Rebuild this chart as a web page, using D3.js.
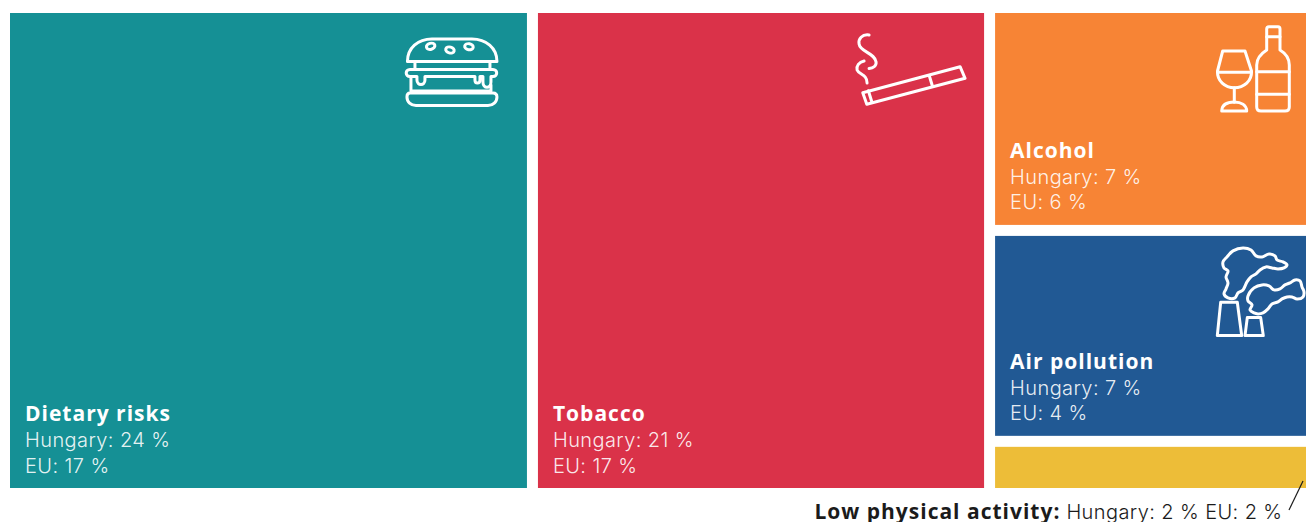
<!DOCTYPE html>
<html>
<head>
<meta charset="utf-8">
<script src="https://cdn.jsdelivr.net/npm/d3@7"></script>
<style>
    html, body { margin: 0; padding: 0; background: #fff; overflow: hidden; }
    svg { display: block; }
    .bold { font-family: "Open Sans", sans-serif; font-weight: 700; font-size: 21px; letter-spacing: 1px; }
    .light { font-family: Inter, sans-serif; font-weight: 300; font-size: 20px; letter-spacing: .4px; }
    .name { fill: #fff; }
    .val { fill: #fff; fill-opacity: .9; }
    .icon * { fill: none; stroke: #fff; stroke-width: 3; stroke-linejoin: round; stroke-linecap: round; }
</style>
</head>
<body>
<script>
const categories = ['Dietary risks', 'Tobacco', 'Alcohol', 'Air pollution', 'Low physical activity'];
const hungaryLabels = [24, 21, 7, 7, 2];
const euLabels = [17, 17, 6, 4, 2];
// unrounded shares, estimated from the areas of the tiles
const hungaryShares = [24.6, 21.3, 6.88, 6.51, 1.61];
const colors = ['#159095', '#da3249', '#f78435', '#215994', '#edbd38'];
const icons = ['burger', 'cigarette', 'wine', 'factory', null];

const width = 1306, height = 522;
const box = { left: 10, top: 13, right: 1306, bottom: 488 };
const gap = 11;

const svg = d3.select('body').append('svg')
    .attr('width', width)
    .attr('height', height);

// first two categories get a column each, the rest share the third one
const rows = categories.map((name, i) => ({ name, index: i, value: hungaryShares[i] }));
const root = d3.hierarchy({ children: [rows[0], rows[1], { children: rows.slice(2) }] })
    .sum(d => d.value || 0);

d3.treemap()
    .tile((node, x0, y0, x1, y1) => (node.depth === 0 ? d3.treemapDice : d3.treemapSlice)(node, x0, y0, x1, y1))
    .size([box.right - box.left, box.bottom - box.top])
    .paddingInner(gap)(root);

const cells = svg.append('g')
    .attr('transform', `translate(${box.left}, ${box.top})`)
    .selectAll('g')
    .data(root.leaves())
    .enter()
    .append('g')
    .attr('transform', d => `translate(${d.x0}, ${d.y0})`);

cells.append('rect')
    .attr('width', d => d.x1 - d.x0)
    .attr('height', d => d.y1 - d.y0)
    .attr('fill', d => colors[d.data.index]);

// labels inside the tile, all but the smallest one
const labelled = cells.filter(d => d.data.index < 4);
const pad = 15;

labelled.append('text')
    .attr('class', 'bold name')
    .attr('x', pad)
    .attr('y', d => d.y1 - d.y0 - 67)
    .text(d => d.data.name);
labelled.append('text')
    .attr('class', 'light val')
    .attr('x', pad)
    .attr('y', d => d.y1 - d.y0 - 41)
    .text(d => `Hungary: ${hungaryLabels[d.data.index]} %`);
labelled.append('text')
    .attr('class', 'light val')
    .attr('x', pad)
    .attr('y', d => d.y1 - d.y0 - 15.5)
    .text(d => `EU: ${euLabels[d.data.index]} %`);

// label of the smallest tile sits under it, with a leader line
const low = root.leaves().find(d => d.data.index === 4);
const lowRight = box.left + low.x1;
const lowBottom = box.top + low.y1;

const outside = svg.append('text')
    .attr('x', lowRight - 23.5)
    .attr('y', lowBottom + 31)
    .attr('text-anchor', 'end')
    .attr('fill', '#1b1b1b');
outside.append('tspan')
    .attr('class', 'bold')
    .text(`${low.data.name}:`);
outside.append('tspan')
    .attr('class', 'light')
    .text(` Hungary: ${hungaryLabels[4]} % EU: ${euLabels[4]} %`);

svg.append('line')
    .attr('x1', lowRight - 3)
    .attr('y1', lowBottom - 7)
    .attr('x2', lowRight - 17)
    .attr('y2', lowBottom + 22)
    .attr('stroke', '#1b1b1b')
    .attr('stroke-width', 1.2);

// icons, offsets measured from the top right corner of the tile
const cloud = d3.line().curve(d3.curveCatmullRomClosed.alpha(0.5));

const iconDraw = {
    burger(g) {
        g.append('path').attr('d', 'M1.5,23.5 C1.5,10 12,1 26,1 H66 C80,1 91,10 91,23.5 Z');
        [[24.7, 8.3, -15], [44, 12, 15], [63, 8.7, 10]].forEach(s => {
            g.append('ellipse').attr('rx', 4.3).attr('ry', 3)
                .attr('transform', `translate(${s[0]},${s[1]}) rotate(${s[2]})`);
        });
        g.append('path').attr('d', 'M9,24 V31 M84,24 V31');
        g.append('path').attr('d', 'M4,31.5 H87 C92,31.5 92,38.5 87,38.5 H85 V44 C85,51 77,51 77,44 V38.5 H74 V42 C74,46 69,46 69,42 V38.5 H19 V42 C19,48 11,48 11,42 V38.5 H4 C-1,38.5 -1,31.5 4,31.5 Z');
        g.append('path').attr('d', 'M5,39 V53 H85 V47');
        g.append('path').attr('d', 'M4,55 H87 C90,55 91,57 91,59 C91,64 87,67.5 82,67.5 H10 C5,67.5 1,64 1,59 C1,57 2,55 4,55 Z');
    },
    cigarette(g) {
        g.append('path').attr('d', 'M7.7,59.7 L105,33.7 L110,45.3 L11.7,71.3 Z');
        g.append('path').attr('d', 'M13.3,57.7 L16.7,68.7 M74.3,43 L77.3,53');
        g.append('path').attr('d', 'M14,2 C7,1 3,6 4,11 C5,19 20,20 21,29 C21.5,33 18,35 14,35.5');
        g.append('path').attr('d', 'M9,28 C4,29 1,33 2,37 C4,42 12,41 12,50');
    },
    wine(g) {
        g.append('path').attr('d', 'M5.7,25 H28 L34.5,45 C35,55 27,61.7 17.3,61.7 C8,61.7 0,55 0.5,45 Z');
        g.append('path').attr('d', 'M0.5,46.3 H34.5 M17.3,61.7 V76.3');
        g.append('path').attr('d', 'M4.7,85 C5,79 10,76 17.3,76 C24,76 29.5,79 29.7,85 Z');
        g.append('path').attr('d', 'M52,0.7 H61 Q63,0.7 63,3 V24 C68,27 72.3,32 72.3,39 V81 Q72.3,85 68,85 H44 Q39.7,85 39.7,81 V39 C39.7,32 45,27 49.7,24 V3 Q49.7,0.7 52,0.7 Z');
        g.append('path').attr('d', 'M49.7,10.7 H63 M39.7,45.7 H72.3 M39.7,68.3 H72.3');
    },
    factory(g) {
        g.append('path').attr('d', 'M4.7,55.3 H21.3 L25.7,88.7 H1.3 Z');
        g.append('path').attr('d', 'M31.3,70.7 H44.7 L47.3,88.7 H29 Z');
        g.append('path').attr('d', cloud([[12,51],[8,47],[10,42],[12,36],[10,30],[12,24],[8,21],[7,15],[11,10],[17,4],[27,1],[35,3],[40,9],[46,10],[53,7],[59,9],[61,13],[67,15],[71,18],[68,21],[62,22],[56,21],[50,20],[44,23],[40,27],[35,30],[31,35],[27,43],[22,46],[19,51]]));
        g.append('path').attr('d', cloud([[38,66],[34,63],[36,58],[32,54],[32,49],[38,41],[46,38],[53,39],[58,43],[64,42],[69,38],[74,36],[79,33],[84,34],[86,40],[88,45],[87,50],[81,52],[76,50],[71,50],[66,52],[62,55],[56,57],[52,62],[47,66],[42,67]]));
    }
};

const iconBox = {
    burger: { right: 121, top: 25 },
    cigarette: { right: 129, top: 20 },
    wine: { right: 89, top: 13 },
    factory: { right: 90, top: 11 }
};

cells.filter(d => icons[d.data.index])
    .append('g')
    .attr('class', 'icon')
    .attr('transform', d => {
        const p = iconBox[icons[d.data.index]];
        return `translate(${d.x1 - d.x0 - p.right}, ${p.top})`;
    })
    .each(function(d) {
        iconDraw[icons[d.data.index]](d3.select(this));
    });
</script>
</body>
</html>
